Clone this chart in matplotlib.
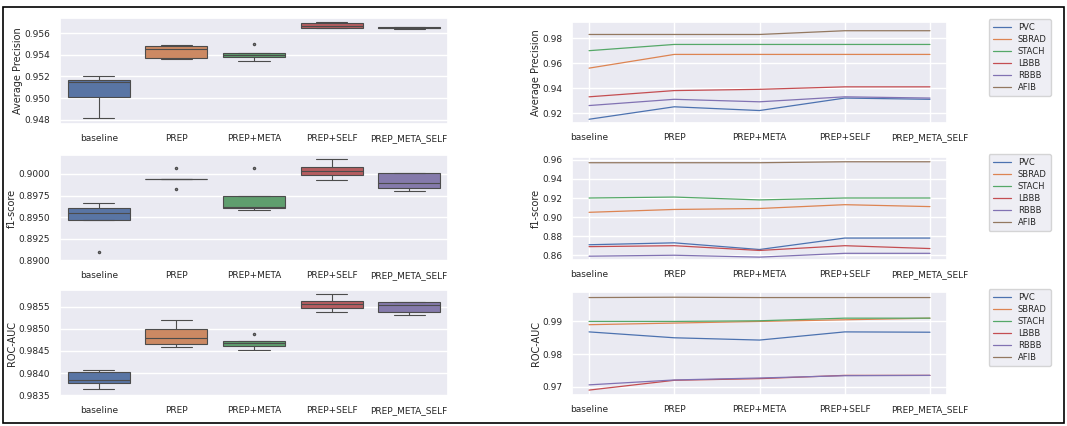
import numpy as np
import pandas as pd
import matplotlib
matplotlib.use("Agg")
import matplotlib.pyplot as plt
import seaborn as sns

methods = ["baseline", "PREP", "PREP+META", "PREP+SELF", "PREP_META_SELF"]
classes = ["PVC", "SBRAD", "STACH", "LBBB", "RBBB", "AFIB"]

# per-run scores (5 runs per method)
ap_runs = [
    [0.9482, 0.9501, 0.9515, 0.9517, 0.9520],
    [0.9536, 0.9537, 0.9545, 0.9548, 0.9549],
    [0.9534, 0.9538, 0.9540, 0.9542, 0.9550],
    [0.9565, 0.9565, 0.9567, 0.9569, 0.9570],
    [0.9564, 0.9565, 0.9565, 0.9566, 0.9566],
]
f1_runs = [
    [0.8909, 0.8946, 0.8955, 0.8960, 0.8966],
    [0.8983, 0.8994, 0.8994, 0.8994, 0.9007],
    [0.8958, 0.8960, 0.8962, 0.8975, 0.9007],
    [0.8993, 0.8999, 0.9003, 0.9008, 0.9017],
    [0.8980, 0.8984, 0.8990, 0.9001, 0.9001],
]
auc_runs = [
    [0.98364, 0.98377, 0.98385, 0.98403, 0.98407],
    [0.98460, 0.98466, 0.98480, 0.98500, 0.98520],
    [0.98452, 0.98462, 0.98468, 0.98472, 0.98489],
    [0.98538, 0.98548, 0.98556, 0.98564, 0.98580],
    [0.98532, 0.98539, 0.98555, 0.98560, 0.98560],
]

# per-class scores
ap_cls = {
    "PVC":   [0.915, 0.925, 0.922, 0.932, 0.931],
    "SBRAD": [0.956, 0.967, 0.967, 0.967, 0.967],
    "STACH": [0.970, 0.975, 0.975, 0.975, 0.975],
    "LBBB":  [0.933, 0.938, 0.939, 0.941, 0.941],
    "RBBB":  [0.926, 0.931, 0.929, 0.933, 0.932],
    "AFIB":  [0.983, 0.983, 0.983, 0.986, 0.986],
}
f1_cls = {
    "PVC":   [0.871, 0.873, 0.866, 0.878, 0.878],
    "SBRAD": [0.905, 0.908, 0.909, 0.913, 0.911],
    "STACH": [0.920, 0.921, 0.918, 0.920, 0.920],
    "LBBB":  [0.869, 0.870, 0.865, 0.870, 0.867],
    "RBBB":  [0.859, 0.860, 0.858, 0.862, 0.862],
    "AFIB":  [0.957, 0.957, 0.957, 0.958, 0.958],
}
auc_cls = {
    "PVC":   [0.9868, 0.9850, 0.9843, 0.9868, 0.9867],
    "SBRAD": [0.9890, 0.9895, 0.9900, 0.9905, 0.9910],
    "STACH": [0.9900, 0.9900, 0.9902, 0.9910, 0.9910],
    "LBBB":  [0.9690, 0.9720, 0.9725, 0.9735, 0.9735],
    "RBBB":  [0.9706, 0.9721, 0.9727, 0.9734, 0.9735],
    "AFIB":  [0.9973, 0.9974, 0.9973, 0.9973, 0.9973],
}

sns.set_theme(style="darkgrid")
plt.rcParams['font.family'] = ['DejaVu Sans']

W, H = 1067, 426
fig = plt.figure(figsize=(W / 100, H / 100), dpi=100)

def box(px0, py0, px1, py1):
    return [px0 / W, 1 - py1 / H, (px1 - px0) / W, (py1 - py0) / H]

left_rows = [(18, 124), (155, 261), (290, 396)]
right_rows = [(22, 123), (157, 260), (292, 395)]

def long_df(runs):
    rows = []
    for m, vals in zip(methods, runs):
        for v in vals:
            rows.append((m, v))
    return pd.DataFrame(rows, columns=["method", "score"])

box_specs = [
    (ap_runs, "Average Precision", (0.9476, 0.9574), [0.948, 0.950, 0.952, 0.954, 0.956], "{:.3f}"),
    (f1_runs, "f1-score", (0.8899, 0.9022), [0.8900, 0.8925, 0.8950, 0.8975, 0.9000], "{:.4f}"),
    (auc_runs, "ROC-AUC", (0.98348, 0.98588), [0.9835, 0.9840, 0.9845, 0.9850, 0.9855], "{:.4f}"),
]

for (runs, ylab, ylim, ticks, fmt), (y0, y1) in zip(box_specs, left_rows):
    ax = fig.add_axes(box(60, y0, 448, y1))
    df = long_df(runs)
    sns.boxplot(data=df, x="method", y="score", hue="method", palette="deep",
                ax=ax, linewidth=0.8, fliersize=1.5, legend=False)
    ax.set_ylim(*ylim)
    ax.set_yticks(ticks)
    ax.set_yticklabels([fmt.format(t) for t in ticks])
    ax.set_xlabel("")
    ax.set_ylabel(ylab, fontsize=7, labelpad=1)
    ax.tick_params(labelsize=6.5, pad=1)

line_specs = [
    (ap_cls, "Average Precision", (0.912, 0.993), [0.92, 0.94, 0.96, 0.98]),
    (f1_cls, "f1-score", (0.855, 0.963), [0.86, 0.88, 0.90, 0.92, 0.94, 0.96]),
    (auc_cls, "ROC-AUC", (0.9675, 0.9990), [0.97, 0.98, 0.99]),
]
colors = sns.color_palette("deep")

for (data, ylab, ylim, ticks), (y0, y1) in zip(line_specs, right_rows):
    ax = fig.add_axes(box(572, y0, 947, y1))
    x = np.arange(len(methods))
    for i, c in enumerate(classes):
        ax.plot(x, data[c], color=colors[i], lw=0.9, label=c)
    ax.set_xticks(x)
    ax.set_xticklabels(methods)
    ax.set_ylim(*ylim)
    ax.set_yticks(ticks)
    ax.set_yticklabels(["{:.2f}".format(t) for t in ticks])
    ax.set_ylabel(ylab, fontsize=7, labelpad=1)
    ax.tick_params(labelsize=6.5, pad=1)
    ax.legend(loc="upper left", bbox_to_anchor=(1.1, 1.07), fontsize=6,
              handlelength=2.2, labelspacing=0.35, borderpad=0.5)

# outer frame
fig.patches.append(plt.Rectangle((3 / W, 3 / H), 1 - 6 / W, 1 - 10 / H,
                                 transform=fig.transFigure, fill=False,
                                 edgecolor="black", lw=1.2))

fig.savefig("out.png", dpi=100)
